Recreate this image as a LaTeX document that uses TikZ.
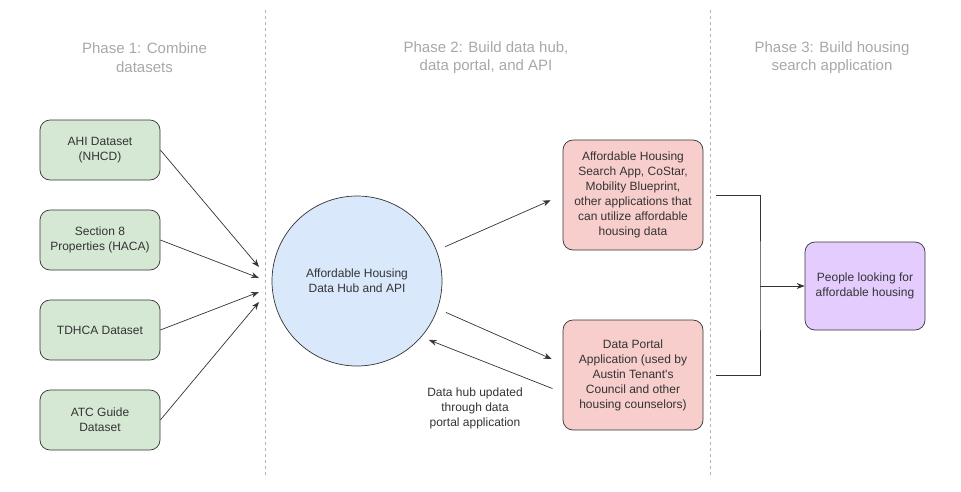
\documentclass[tikz,border=0pt]{standalone}
\usepackage{fontspec}
\setmainfont{Liberation Sans}
\usetikzlibrary{positioning}
\usetikzlibrary{arrows.meta,shapes}
\usetikzlibrary{calc}

\definecolor{datagreen}{HTML}{D5E8D4}
\definecolor{appred}{HTML}{F8CECC}
\definecolor{hubblue}{HTML}{DAE8FC}
\definecolor{userpurple}{HTML}{E5CCFF}
\definecolor{phasegray}{HTML}{A8A8A8}
\definecolor{inkgray}{HTML}{333333}

\tikzset{
  box/.style={draw=inkgray, line width=0.7pt, rounded corners=10pt, align=center,
    font=\fontsize{12}{15}\selectfont, text=inkgray, inner sep=0pt},
  databox/.style={box, fill=datagreen, minimum width=120pt, minimum height=60pt},
  appbox/.style={box, fill=appred, minimum width=140pt, minimum height=110pt},
  userbox/.style={box, fill=userpurple, minimum width=120pt, minimum height=88pt},
  hubnode/.style={circle, draw=inkgray, line width=0.7pt, fill=hubblue, minimum size=170pt,
    align=center, font=\fontsize{12}{15}\selectfont, text=inkgray, inner sep=0pt},
  phasetext/.style={align=center, text=phasegray, font=\fontsize{15}{18.5}\selectfont},
  notetext/.style={align=center, text=inkgray, font=\fontsize{12}{15}\selectfont},
  divider/.style={draw=black!30, line width=0.6pt, dash pattern=on 3pt off 3pt},
  link/.style={draw=inkgray, line width=0.7pt},
  arrow/.style={link, -{Stealth[length=8pt,width=6pt]}}
}

\begin{document}
\begin{tikzpicture}[x=1pt, y=-1pt]

  \def\dy{90};

  \useasboundingbox (0,0) rectangle (961,491);

  % phase dividers and titles
  \draw[divider] (265,10) -- (265,478);
  \draw[divider] (710,10) -- (710,478);
  \node[phasetext] (phase1) at (144.5,57.5) {Phase 1: Combine\\datasets};
  \node[phasetext] (phase2) at (486,57.5) {Phase 2: Build data hub,\\data portal, and API};
  \node[phasetext] (phase3) at (832,57.5) {Phase 3: Build housing\\search application};

  % hub
  \node[hubnode] (hub) at (357,281) {Affordable Housing\\Data Hub and API};

  % datasets
  \foreach \i/\name/\txt/\yin in {0/ahi/{AHI Dataset\\(NHCD)}/267, 1/sec/{Section 8\\Properties (HACA)}/278,
      2/tdhca/{TDHCA Dataset}/292, 3/atc/{ATC Guide\\Dataset}/302} {
    \node[databox] (\name) at (100, 150+\i*\dy) {\txt};
    \coordinate (\name-in) at (259,\yin);
    \draw[arrow] (\name.east) -- (\name-in);
  }

  % applications
  \node[appbox] (search) at (633,195) {Affordable Housing\\Search App, CoStar,\\Mobility Blueprint,\\other applications that\\can utilize affordable\\housing data};
  \node[appbox] (portal) at (633,375) {Data Portal\\Application (used by\\Austin Tenant\textquotesingle s\\Council and other\\housing counselors)};

  \draw[arrow, shorten <=9.4pt, shorten >=13pt] (hub.21) -- (search.west);
  \draw[arrow, shorten <=9pt, shorten >=12pt] (hub.-19.5) -- (portal.171);
  \draw[arrow, shorten <=11pt, shorten >=8pt] (portal.194) -- (hub.-41.8);
  \node[notetext] (note) at (475,408) {Data hub updated\\through data\\portal application};

  % users
  \node[userbox] (people) at (865,286) {People looking for\\affordable housing};
  \coordinate (merge) at (760,286);
  \draw[link, shorten <=13pt, shorten >=13pt] (search.east) -| (merge) |- (portal.east);
  \draw[arrow] (merge) -- (people.west);

\end{tikzpicture}
\end{document}
